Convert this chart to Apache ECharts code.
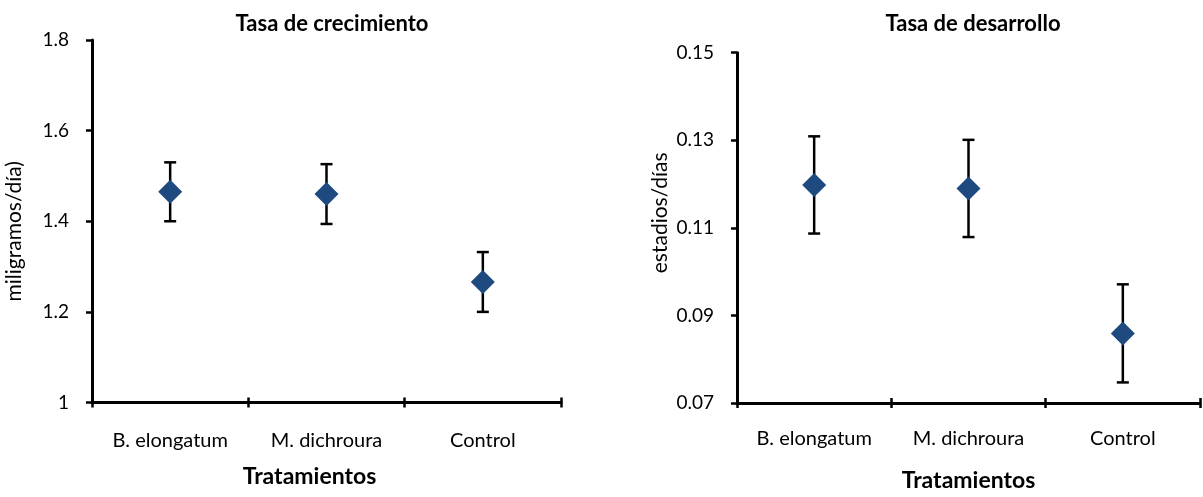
<!DOCTYPE html>
<html><head><meta charset="utf-8">
<script src="https://cdn.jsdelivr.net/npm/echarts@6/dist/echarts.min.js"></script>
<style>html,body{margin:0;padding:0;background:#fff}#c{width:1203px;height:497px}</style>
</head><body><div id="c"></div>
<script>
const categories = ['B. elongatum', 'M. dichroura', 'Control'];
const growthMean = [1.465, 1.460, 1.266];
const growthErr = [0.065, 0.066, 0.066];
const devMean = [0.1198, 0.1190, 0.0859];
const devErr = [0.0111, 0.0111, 0.0112];
const growthTicks = [1, 1.2, 1.4, 1.6, 1.8];
const devTicks = [0.07, 0.09, 0.11, 0.13, 0.15];

const FONT = 'Lato';
const markerColor = '#1F4A7F';

function errData(mean, err) {
  return mean.map((m, i) => [i, m - err[i], m + err[i]]);
}
function renderErr(params, api) {
  const x = api.value(0);
  const lo = api.coord([x, api.value(1)]);
  const hi = api.coord([x, api.value(2)]);
  const w = 6;
  const st = { stroke: '#000', lineWidth: 2.5 };
  return { type: 'group', children: [
    { type: 'line', shape: { x1: hi[0], y1: hi[1], x2: lo[0], y2: lo[1] }, style: st },
    { type: 'line', shape: { x1: hi[0] - w, y1: hi[1], x2: hi[0] + w, y2: hi[1] }, style: st },
    { type: 'line', shape: { x1: lo[0] - w, y1: lo[1], x2: lo[0] + w, y2: lo[1] }, style: st }
  ]};
}
const axisLine = { show: true, lineStyle: { color: '#000', width: 3 } };
function xAxes(gi, labelMargin, nameGap, pad) {
  return [
    { type: 'category', gridIndex: gi, position: 'bottom', data: categories, boundaryGap: true,
      axisLine: axisLine,
      axisTick: { show: true, alignWithLabel: false, length: 5, lineStyle: { color: '#000', width: 2.5 } },
      axisLabel: { margin: labelMargin, fontFamily: FONT, fontSize: 20, color: '#000' },
      name: 'Tratamientos', nameLocation: 'middle', nameGap: nameGap,
      nameTextStyle: { fontFamily: FONT, fontSize: 23, fontWeight: 'bold', color: '#000', padding: pad } },
    { type: 'category', gridIndex: gi, position: 'bottom', data: categories, boundaryGap: true,
      axisLine: { show: false },
      axisTick: { show: true, inside: true, alignWithLabel: false, length: 5, lineStyle: { color: '#000', width: 2.5 } },
      axisLabel: { show: false } }
  ];
}
function yAxis(gi, min, max, ticks, name, nameGap, pad) {
  return { type: 'value', gridIndex: gi, min: min, max: max,
    axisLine: axisLine,
    axisTick: { show: true, length: 6, customValues: ticks, lineStyle: { color: '#000', width: 2.5 } },
    axisLabel: { customValues: ticks, margin: 23, fontFamily: FONT, fontSize: 19, color: '#000' },
    splitLine: { show: false },
    name: name, nameLocation: 'middle', nameGap: nameGap,
    nameTextStyle: { fontFamily: FONT, fontSize: 21, color: '#000', padding: pad } };
}

const chart = echarts.init(document.getElementById('c'), null, { renderer: 'canvas' });
chart.setOption({
  backgroundColor: '#fff',
  animation: false,
  title: [
    { text: 'Tasa de crecimiento', left: 327, top: 8, textAlign: 'center',
      textStyle: { fontFamily: FONT, fontSize: 22, fontWeight: 'bold', color: '#000' } },
    { text: 'Tasa de desarrollo', left: 968, top: 8, textAlign: 'center',
      textStyle: { fontFamily: FONT, fontSize: 22, fontWeight: 'bold', color: '#000' } }
  ],
  grid: [
    { left: 92, top: 40, width: 469, height: 362.5, containLabel: false },
    { left: 737, top: 52.7, width: 463, height: 354.6, containLabel: false }
  ],
  xAxis: [].concat(xAxes(0, 28, 63, [0, 34, 0, 0]), xAxes(1, 26, 66, [0, 0, 0, 0])),
  yAxis: [
    yAxis(0, 1, 1.8, growthTicks, 'miligramos/día)', 67, [0, 20, 0, 0]),
    yAxis(1, 0.07, 0.15, devTicks, 'estadios/días', 66, [0, 0, 0, 30])
  ],
  series: [
    { type: 'custom', xAxisIndex: 0, yAxisIndex: 0, renderItem: renderErr, data: errData(growthMean, growthErr), z: 2 },
    { type: 'scatter', xAxisIndex: 0, yAxisIndex: 0, symbol: 'diamond', symbolSize: 24,
      itemStyle: { color: markerColor, opacity: 1 }, data: growthMean, z: 3 },
    { type: 'custom', xAxisIndex: 2, yAxisIndex: 1, renderItem: renderErr, data: errData(devMean, devErr), z: 2 },
    { type: 'scatter', xAxisIndex: 2, yAxisIndex: 1, symbol: 'diamond', symbolSize: 24,
      itemStyle: { color: markerColor, opacity: 1 }, data: devMean, z: 3 }
  ]
});
</script></body></html>
